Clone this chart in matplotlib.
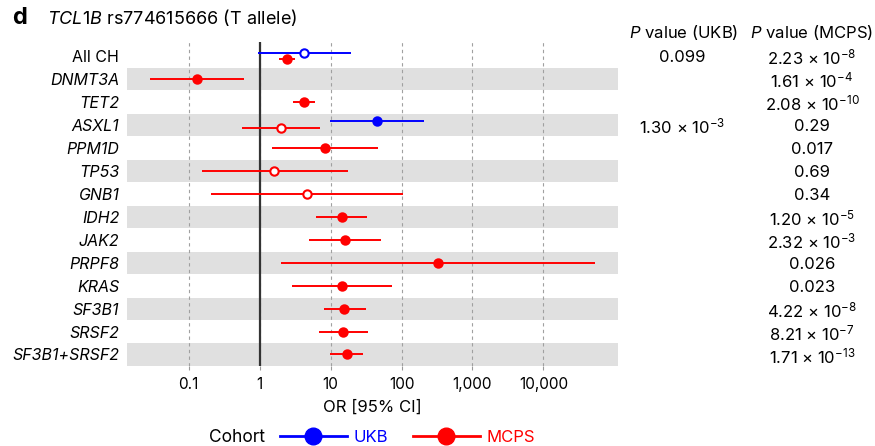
import numpy as np
import matplotlib
matplotlib.use("Agg")
import matplotlib.pyplot as plt
import matplotlib.transforms as mtransforms
from matplotlib.lines import Line2D
from matplotlib.ticker import NullLocator

# data
genes = ["All CH", "DNMT3A", "TET2", "ASXL1", "PPM1D", "TP53", "GNB1", "IDH2",
         "JAK2", "PRPF8", "KRAS", "SF3B1", "SRSF2", "SF3B1+SRSF2"]
mcps_or = [2.40, 0.131, 4.25, 2.02, 8.4, 1.61, 4.64, 14.3, 15.9, 328, 14.4, 15.7, 15.2, 16.8]
mcps_lo = [1.85, 0.0285, 2.97, 0.57, 1.49, 0.152, 0.206, 6.27, 4.9, 2.02, 2.88, 7.97, 6.78, 9.78]
mcps_hi = [3.11, 0.60, 6.07, 7.14, 46.4, 17.4, 104, 32.8, 52, 54000, 72.3, 31.4, 33.9, 28.8]
mcps_p = [2.23e-8, 1.61e-4, 2.08e-10, 0.29, 0.017, 0.69, 0.34, 1.20e-5, 2.32e-3,
          0.026, 0.023, 4.22e-8, 8.21e-7, 1.71e-13]

ukb_genes = ["All CH", "ASXL1"]
ukb_or = [4.25, 44.9]
ukb_lo = [0.94, 9.9]
ukb_hi = [19.5, 208]
ukb_p = [0.099, 1.30e-3]

ticks = [0.1, 1, 10, 100, 1000, 10000]
tick_labels = ["0.1", "1", "10", "100", "1,000", "10,000"]

UKB_COL = "#0000ff"
MCPS_COL = "#ff0000"

plt.rcParams['font.family'] = ['Inter', 'DejaVu Sans']
plt.rcParams['mathtext.fontset'] = 'custom'
plt.rcParams['mathtext.rm'] = 'Inter'
plt.rcParams['mathtext.it'] = 'Inter:italic'
plt.rcParams['mathtext.bf'] = 'Inter:bold'


def fmt_p(p):
    if p < 0.01:
        m, e = f"{p:.2e}".split("e")
        return f"{m} \u00d7 10$^{{{int(e)}}}$"
    return f"{p:.2g}"


fig = plt.figure(figsize=(8.75, 4.46), dpi=100)
ax = fig.add_axes([0.1451, 0.1794, 0.5609, 0.7265])

y = np.arange(len(genes))
for i in y[1::2]:
    ax.axhspan(i - 0.48, i + 0.48, color="#e0e0e0", lw=0, zorder=0)

for t in ticks:
    ax.axvline(t, color="#a0a0a0", ls=(0, (3, 3)), lw=0.8, zorder=1)
ax.axvline(1, color="#333333", lw=1.6, zorder=2)

dodge = 0.14
ukb_idx = [genes.index(g) for g in ukb_genes]
mcps_y = y.astype(float)
mcps_y[ukb_idx] += dodge
ukb_y = np.array(ukb_idx, dtype=float) - dodge


def draw(yy, orv, lo, hi, pv, color):
    ax.hlines(yy, lo, hi, color=color, lw=1.4, zorder=3)
    for yv, o, p in zip(yy, orv, pv):
        ax.plot(o, yv, "o", ms=6, mec=color, mew=1.5,
                mfc=color if p < 0.05 else "white", zorder=4)


draw(mcps_y, mcps_or, mcps_lo, mcps_hi, mcps_p, MCPS_COL)
draw(ukb_y, ukb_or, ukb_lo, ukb_hi, ukb_p, UKB_COL)

ax.set_xscale("log")
ax.set_xlim(0.0135, 111700)
ax.set_ylim(len(genes) - 0.5, -0.6)
ax.set_xticks(ticks, tick_labels)
ax.xaxis.set_minor_locator(NullLocator())
ax.set_yticks(y, genes)
for lbl in ax.get_yticklabels():
    if lbl.get_text() != "All CH":
        lbl.set_fontstyle("italic")
for s in ax.spines.values():
    s.set_visible(False)
ax.tick_params(axis="x", length=3, color="#999999", labelsize=11, pad=5)
ax.tick_params(axis="y", length=0, labelsize=11.5, pad=5.5)
ax.set_xlabel("OR [95% CI]", fontsize=12, labelpad=5)

# p-value columns
trans = mtransforms.blended_transform_factory(fig.transFigure, ax.transData)
x_ukb, x_mcps = 682 / 875, 812 / 875
fig.text(684 / 875, 1 - 33 / 446, "$P$ value (UKB)", ha="center", va="center", fontsize=12)
fig.text(812 / 875, 1 - 33 / 446, "$P$ value (MCPS)", ha="center", va="center", fontsize=12)
for i, p in zip(ukb_idx, ukb_p):
    ax.text(x_ukb, i + 0.08, fmt_p(p), transform=trans, ha="center", va="center",
            fontsize=12, clip_on=False)
for i, p in enumerate(mcps_p):
    ax.text(x_mcps, i + 0.08, fmt_p(p), transform=trans, ha="center", va="center",
            fontsize=12, clip_on=False)

# title
fig.text(12 / 875, 1 - 18 / 446, "d", fontweight="bold", fontsize=17, va="center")
fig.text(47 / 875, 1 - 18 / 446, r"$\mathit{TCL1B}$ rs774615666 (T allele)",
         fontsize=13, va="center")

# legend
handles = [Line2D([], [], color=UKB_COL, lw=2, marker="o", ms=12),
           Line2D([], [], color=MCPS_COL, lw=2, marker="o", ms=12)]
leg = fig.legend(handles, ["UKB", "MCPS"], loc="center left",
                 bbox_to_anchor=(280 / 875, 1 - 437 / 446), ncol=2, frameon=False,
                 fontsize=12, handlelength=4.0, handletextpad=0.4,
                 columnspacing=1.5, borderpad=0, borderaxespad=0)
for txt, c in zip(leg.get_texts(), [UKB_COL, MCPS_COL]):
    txt.set_color(c)
fig.text(265 / 875, 1 - 437 / 446, "Cohort", ha="right", va="center", fontsize=12.5)

fig.savefig("out.png", dpi=100)
